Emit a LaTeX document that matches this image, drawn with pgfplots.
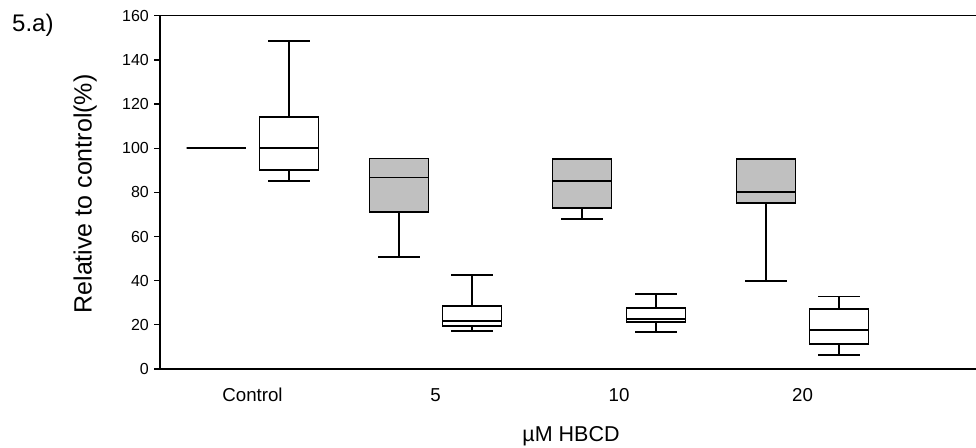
\documentclass[border=0pt]{standalone}
\usepackage{fontspec}
\setmainfont{Liberation Sans}
\usepackage{pgfplots}
\pgfplotsset{compat=1.18}

\definecolor{boxgray}{RGB}{192,192,192}

% One box with whiskers: #1 position, #2 lower whisker, #3 lower quartile,
% #4 median, #5 upper quartile, #6 upper whisker, #7 fill colour
\newcommand\hbcdbox[7]{%
  \pgfmathsetmacro\bl{#1-29.5}\pgfmathsetmacro\br{#1+29.5}%
  \pgfmathsetmacro\wl{#1-21}\pgfmathsetmacro\wr{#1+21}%
  \edef\temp{%
    \noexpand\addplot[draw=black, line width=1.6bp] coordinates {(#1,#5) (#1,#6)};
    \noexpand\addplot[draw=black, line width=1.6bp] coordinates {(#1,#2) (#1,#3)};
    \noexpand\addplot[draw=black, line width=1.8bp] coordinates {(\wl,#6) (\wr,#6)};
    \noexpand\addplot[draw=black, line width=1.8bp] coordinates {(\wl,#2) (\wr,#2)};
    \noexpand\addplot[draw=black, fill=#7, line width=1.8bp] coordinates {(\bl,#3) (\br,#3) (\br,#5) (\bl,#5)} -- cycle;
    \noexpand\addplot[draw=black, line width=1.8bp] coordinates {(\bl,#4) (\br,#4)};
  }\temp
}

\begin{document}
\begin{tikzpicture}
\useasboundingbox (0,0) rectangle (976bp,448bp);
\begin{axis}[
  at={(160bp,79bp)}, anchor=south west,
  scale only axis, width=816bp, height=353.3bp,
  xmin=160, xmax=976, ymin=0, ymax=160,
  clip=false,
  axis x line=box, axis y line=left,
  axis line style={-, line width=1.5bp},
  ytick={0,20,...,160},
  xtick={252.5,435.5,619,802.5},
  xticklabels={Control,5,10,20},
  x tick style={draw=none},
  y tick style={line width=1.3bp, black},
  tick align=outside, major tick length=6bp,
  ytick pos=left,
  /pgf/number format/assume math mode=true,
  yticklabel style={font=\fontsize{16bp}{19bp}\selectfont, inner sep=0pt, xshift=-5bp},
  xticklabel style={font=\fontsize{18.7bp}{22bp}\selectfont, anchor=base, inner sep=0pt, yshift=-26.7bp},
]
% Control
\hbcdbox{216}{100}{100}{100}{100}{100}{boxgray}
\hbcdbox{289}{85.0}{90.3}{100}{114.1}{148.6}{white}
% 5 uM
\hbcdbox{399}{50.7}{71.1}{86.7}{95.3}{95.3}{boxgray}
\hbcdbox{472}{17.2}{19.3}{21.9}{28.5}{42.6}{white}
% 10 uM
\hbcdbox{582}{67.8}{72.9}{85.1}{95.1}{95.1}{boxgray}
\hbcdbox{656}{16.8}{21.3}{22.8}{27.8}{33.8}{white}
% 20 uM
\hbcdbox{766}{39.9}{75.3}{80.3}{95.1}{95.1}{boxgray}
\hbcdbox{839}{6.3}{11.3}{17.7}{27.3}{32.8}{white}
\end{axis}
\node[anchor=base, rotate=90, inner sep=0pt, font=\fontsize{25bp}{30bp}\selectfont]
  at (91.7bp,254bp) {Relative to control(\%)};
\node[anchor=base, inner sep=0pt, font=\fontsize{21.5bp}{26bp}\selectfont]
  at (571bp,7bp) {µM HBCD};
\node[anchor=base west, inner sep=0pt, font=\fontsize{24bp}{28bp}\selectfont]
  at (12bp,416bp) {5.a)};
\end{tikzpicture}
\end{document}
